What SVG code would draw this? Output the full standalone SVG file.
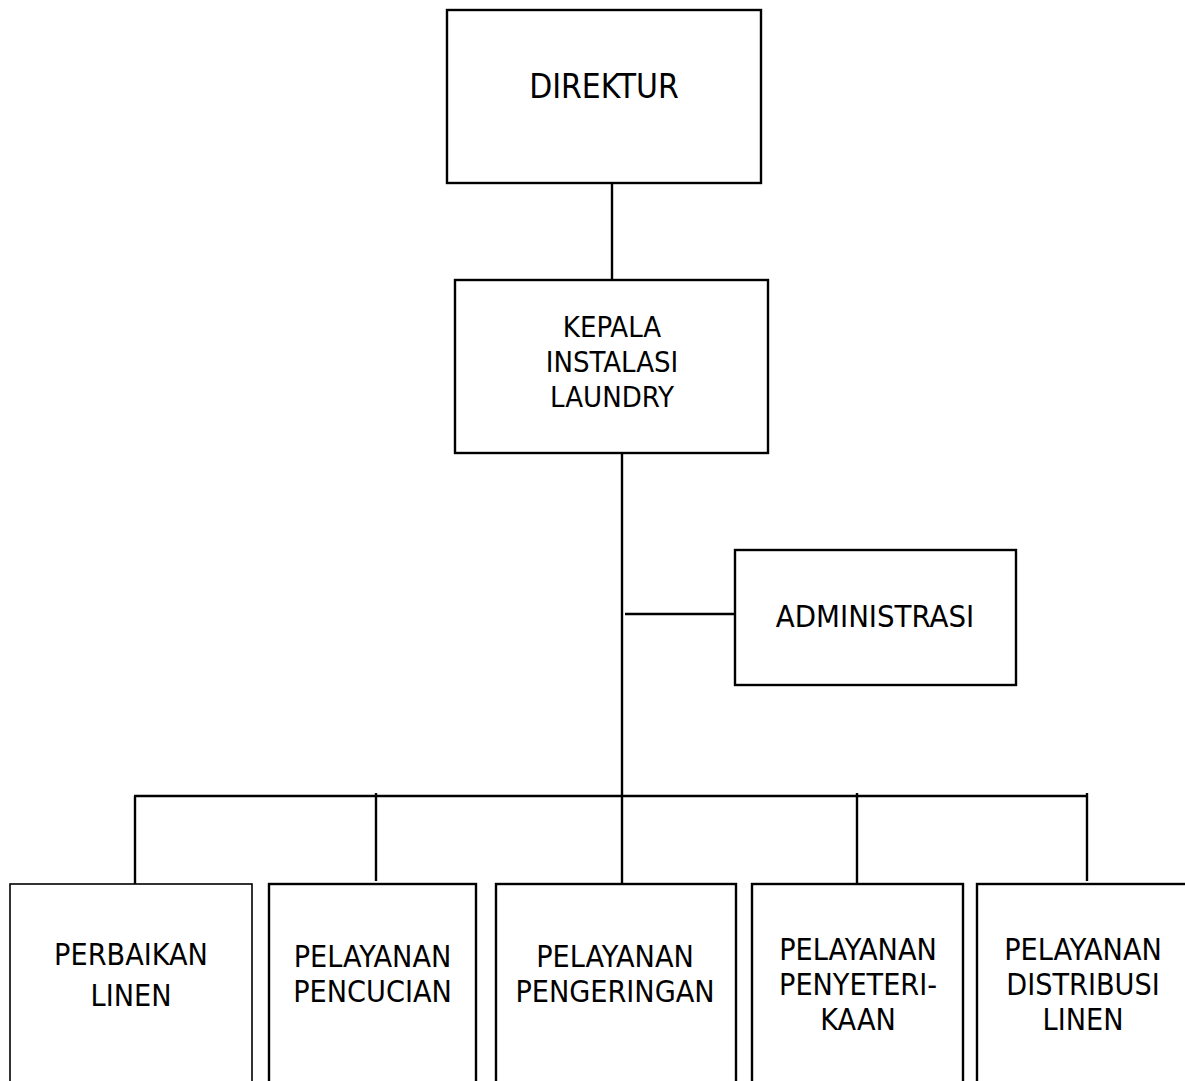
<svg xmlns="http://www.w3.org/2000/svg" width="1185" height="1081" viewBox="0 0 1185 1081">
  <style>
    .box { fill: #ffffff; stroke: #000000; stroke-width: 2.4; }
    .thin { stroke-width: 1.6; }
    .lbl { font-family: "DejaVu Sans Condensed", "DejaVu Sans", sans-serif; font-stretch: condensed; font-size: 30.2px; fill: #000000; text-anchor: middle; }
    .link { stroke: #000000; stroke-width: 2.4; fill: none; }
  </style>
  <rect width="1185" height="1081" fill="#ffffff"/>

  <!-- connectors -->
  <g id="connectors">
    <line class="link" x1="612" y1="183" x2="612" y2="280"/>
    <line class="link" x1="622" y1="453" x2="622" y2="884"/>
    <line class="link" x1="625" y1="614" x2="735" y2="614"/>
    <line class="link" x1="134" y1="796" x2="1087" y2="796"/>
    <line class="link" x1="135" y1="796" x2="135" y2="884"/>
    <line class="link" x1="376" y1="793" x2="376" y2="881"/>
    <line class="link" x1="857" y1="793" x2="857" y2="884"/>
    <line class="link" x1="1087" y1="793" x2="1087" y2="881"/>
  </g>

  <g id="direktur">
    <rect class="box" x="447" y="10" width="314" height="173"/>
    <text class="lbl" x="604" y="97.5" style="font-size:33.3px">DIREKTUR</text>
  </g>

  <g id="kepala-instalasi-laundry">
    <rect class="box" x="455" y="280" width="313" height="173"/>
    <text class="lbl" style="font-size:29px"><tspan x="612" y="336.5">KEPALA</tspan><tspan x="612" y="371.5">INSTALASI</tspan><tspan x="612" y="406.5">LAUNDRY</tspan></text>
  </g>

  <g id="administrasi">
    <rect class="box" x="735" y="550" width="281" height="135"/>
    <text class="lbl" x="875" y="627" style="font-size:30.8px">ADMINISTRASI</text>
  </g>

  <g id="perbaikan-linen">
    <rect class="box thin" x="10" y="884" width="242" height="230"/>
    <text class="lbl"><tspan x="131" y="965">PERBAIKAN</tspan><tspan x="131" y="1006">LINEN</tspan></text>
  </g>

  <g id="pelayanan-pencucian">
    <rect class="box" x="269" y="884" width="207" height="230"/>
    <text class="lbl"><tspan x="372.5" y="966.5">PELAYANAN</tspan><tspan x="372.5" y="1001.5">PENCUCIAN</tspan></text>
  </g>

  <g id="pelayanan-pengeringan">
    <rect class="box" x="496" y="884" width="240" height="230"/>
    <text class="lbl"><tspan x="615" y="966.5">PELAYANAN</tspan><tspan x="615" y="1001.5">PENGERINGAN</tspan></text>
  </g>

  <g id="pelayanan-penyeterikaan">
    <rect class="box" x="752" y="884" width="211" height="230"/>
    <text class="lbl"><tspan x="858" y="960">PELAYANAN</tspan><tspan x="858" y="995">PENYETERI-</tspan><tspan x="858" y="1030">KAAN</tspan></text>
  </g>

  <g id="pelayanan-distribusi-linen">
    <rect class="box" x="977" y="884" width="230" height="230"/>
    <text class="lbl"><tspan x="1083" y="960">PELAYANAN</tspan><tspan x="1083" y="995">DISTRIBUSI</tspan><tspan x="1083" y="1030">LINEN</tspan></text>
  </g>
</svg>
